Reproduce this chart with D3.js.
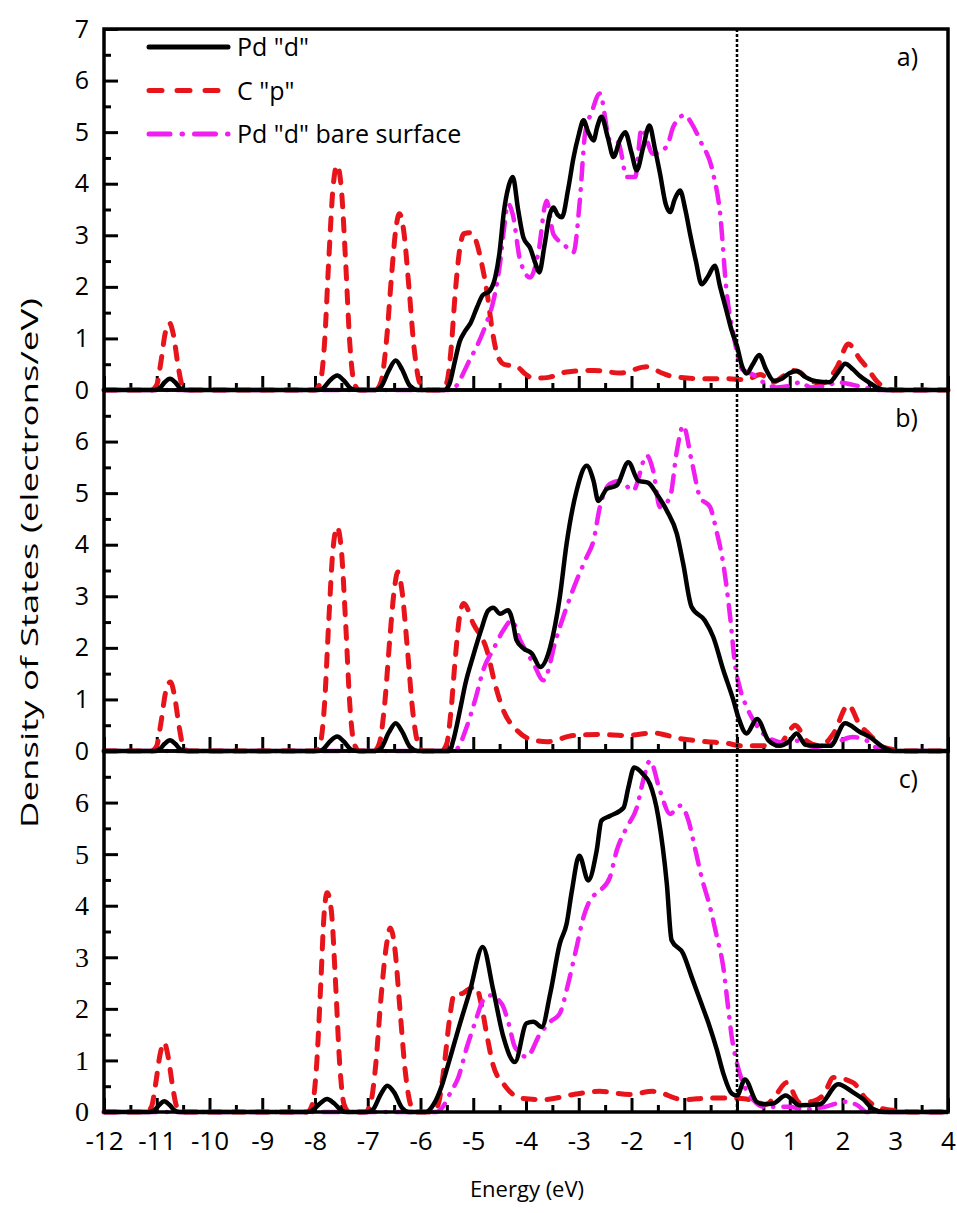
<!DOCTYPE html>
<html>
<head>
<meta charset="utf-8">
<script src="https://cdn.jsdelivr.net/npm/d3@7/dist/d3.min.js"></script>
<style>
  body { margin: 0; background: #ffffff; }
  svg { display: block; }
  .axis path { display: none; }
  .lbl { font-family: "Open Sans", sans-serif; fill: #000; }
</style>
</head>
<body>
<div id="chart"></div>
<script>
var margin = {top: 29, right: 9, bottom: 101, left: 104};

// energy ticks and panel names
var xTicks = d3.range(-12, 5, 1);
var panelNames = ['a)', 'b)', 'c)'];
var seriesNames = ['Pd "d"', 'C "p"', 'Pd "d" bare surface'];

// [energy, DOS], panel a
var pdA = [[-12,0],[-11.05,0],[-10.95,0.03],[-10.85,0.15],[-10.75,0.22],[-10.65,0.15],[-10.55,0.03],[-10.45,0],
  [-7.95,0],[-7.85,0.03],[-7.72,0.18],[-7.58,0.28],[-7.45,0.18],[-7.32,0.03],[-7.2,0],
  [-6.85,0],[-6.75,0.06],[-6.6,0.38],[-6.47,0.57],[-6.35,0.4],[-6.2,0.08],[-6.05,0],
  [-5.55,0],[-5.45,0.12],[-5.35,0.55],[-5.26,0.93],[-5.15,1.15],[-5.05,1.3],[-4.93,1.6],[-4.82,1.84],[-4.69,1.92],
  [-4.58,2.2],[-4.5,2.68],[-4.42,3.45],[-4.33,3.95],[-4.25,4.13],[-4.15,3.5],[-4.05,2.96],[-3.92,2.75],[-3.82,2.45],
  [-3.75,2.28],[-3.65,2.8],[-3.55,3.4],[-3.48,3.54],[-3.4,3.4],[-3.32,3.35],[-3.2,3.9],[-3.1,4.5],[-3.0,4.95],
  [-2.91,5.23],[-2.82,5.0],[-2.72,4.84],[-2.65,5.1],[-2.57,5.3],[-2.45,4.9],[-2.34,4.52],[-2.22,4.85],[-2.12,5.0],
  [-2.0,4.6],[-1.9,4.26],[-1.78,4.7],[-1.66,5.13],[-1.56,4.7],[-1.46,4.2],[-1.35,3.6],[-1.27,3.45],[-1.18,3.7],
  [-1.08,3.87],[-0.98,3.5],[-0.89,3.03],[-0.78,2.5],[-0.67,2.05],[-0.55,2.2],[-0.42,2.41],[-0.32,2.0],[-0.2,1.54],
  [-0.1,1.15],[0,0.85],[0.1,0.45],[0.18,0.32],[0.3,0.5],[0.42,0.68],[0.55,0.4],[0.7,0.18],[0.85,0.22],[1.0,0.33],
  [1.13,0.37],[1.3,0.25],[1.5,0.17],[1.75,0.15],[1.92,0.35],[2.05,0.51],[2.2,0.4],[2.33,0.27],[2.5,0.15],[2.65,0.05],
  [2.85,0],[4,0]];
var cpA = [[-12,0],[-11.1,0],[-11.0,0.1],[-10.92,0.55],[-10.84,1.1],[-10.76,1.3],[-10.68,1.05],[-10.6,0.5],[-10.52,0.1],[-10.42,0],
  [-8.0,0],[-7.9,0.15],[-7.82,0.9],[-7.74,2.5],[-7.66,3.9],[-7.58,4.36],[-7.5,3.9],[-7.42,2.5],[-7.34,0.9],[-7.26,0.15],[-7.16,0],
  [-6.85,0],[-6.75,0.15],[-6.65,0.9],[-6.55,2.2],[-6.47,3.1],[-6.4,3.42],[-6.32,3.1],[-6.22,2.0],[-6.12,0.8],[-6.02,0.15],[-5.92,0],
  [-5.6,0],[-5.5,0.15],[-5.42,0.8],[-5.34,1.9],[-5.26,2.7],[-5.18,3.03],[-5.05,3.05],[-4.95,2.9],[-4.85,2.5],[-4.74,1.9],
  [-4.64,1.16],[-4.55,0.7],[-4.42,0.5],[-4.17,0.45],[-4.0,0.3],[-3.86,0.23],[-3.6,0.24],[-3.23,0.35],[-2.72,0.38],
  [-2.22,0.33],[-1.71,0.45],[-1.4,0.32],[-1.21,0.26],[-0.7,0.22],[-0.2,0.22],[0.18,0.2],[0.44,0.3],[0.69,0.15],
  [0.85,0.25],[1.05,0.38],[1.2,0.34],[1.39,0.17],[1.64,0.14],[1.9,0.45],[2.11,0.89],[2.33,0.6],[2.46,0.44],[2.65,0.17],
  [2.84,0.03],[3.0,0],[4,0]];
var bareA = [[-12,0],[-5.4,0],[-5.32,0.08],[-5.2,0.3],[-5.07,0.58],[-4.94,0.83],[-4.75,1.3],[-4.62,1.72],[-4.5,2.4],
  [-4.42,3.1],[-4.34,3.61],[-4.25,3.4],[-4.11,2.51],[-3.92,2.18],[-3.77,2.64],[-3.61,3.67],[-3.48,3.02],[-3.29,2.83],
  [-3.1,2.67],[-2.98,3.67],[-2.88,4.97],[-2.75,5.4],[-2.6,5.75],[-2.41,4.84],[-2.25,4.8],[-2.09,4.13],[-1.93,4.13],
  [-1.81,5.07],[-1.59,4.58],[-1.33,4.72],[-1.21,5.1],[-0.99,5.33],[-0.85,5.15],[-0.7,4.84],[-0.45,4.19],[-0.32,3.42],
  [-0.2,1.93],[-0.07,1.09],[0.1,0.4],[0.3,0.3],[0.5,0.15],[0.75,0.05],[1.0,0.08],[1.2,0.15],[1.4,0.05],[1.7,0.08],
  [1.9,0.15],[2.2,0.1],[2.5,0.03],[2.7,0],[4,0]];

// panel b
var pdB = [[-12,0],[-11.05,0],[-10.95,0.03],[-10.85,0.14],[-10.75,0.21],[-10.65,0.14],[-10.55,0.03],[-10.45,0],
  [-7.95,0],[-7.85,0.03],[-7.72,0.18],[-7.58,0.28],[-7.45,0.18],[-7.32,0.03],[-7.2,0],
  [-6.85,0],[-6.75,0.05],[-6.6,0.36],[-6.47,0.54],[-6.35,0.38],[-6.2,0.08],[-6.05,0],
  [-5.45,0],[-5.38,0.2],[-5.25,0.8],[-5.15,1.3],[-5.0,1.85],[-4.85,2.35],[-4.72,2.72],[-4.62,2.78],[-4.49,2.66],
  [-4.34,2.73],[-4.25,2.5],[-4.18,2.15],[-4.05,1.99],[-3.89,1.89],[-3.73,1.63],[-3.54,2.02],[-3.36,2.98],[-3.23,4.02],
  [-3.04,5.05],[-2.85,5.53],[-2.72,5.24],[-2.63,4.85],[-2.47,5.08],[-2.28,5.15],[-2.06,5.6],[-1.87,5.24],[-1.68,5.2],
  [-1.52,4.98],[-1.33,4.66],[-1.14,4.21],[-1.02,3.63],[-0.86,2.79],[-0.61,2.53],[-0.45,2.21],[-0.26,1.57],[-0.07,0.99],
  [0.03,0.64],[0.18,0.34],[0.38,0.62],[0.6,0.2],[0.8,0.1],[1.0,0.2],[1.13,0.34],[1.3,0.12],[1.5,0.1],[1.77,0.1],
  [2.05,0.54],[2.33,0.37],[2.52,0.27],[2.78,0.07],[2.97,0],[4,0]];
var cpB = [[-12,0],[-11.1,0],[-11.0,0.1],[-10.92,0.55],[-10.83,1.15],[-10.74,1.34],[-10.66,1.05],[-10.58,0.5],[-10.5,0.1],[-10.4,0],
  [-8.0,0],[-7.9,0.15],[-7.82,0.9],[-7.74,2.5],[-7.66,3.9],[-7.58,4.34],[-7.5,3.9],[-7.42,2.5],[-7.34,0.9],[-7.26,0.15],[-7.16,0],
  [-6.88,0],[-6.78,0.15],[-6.68,0.9],[-6.58,2.2],[-6.5,3.1],[-6.43,3.47],[-6.35,3.1],[-6.25,2.0],[-6.15,0.8],[-6.05,0.15],[-5.95,0],
  [-5.6,0],[-5.5,0.15],[-5.42,0.8],[-5.34,1.8],[-5.26,2.6],[-5.18,2.86],[-5.0,2.47],[-4.74,1.95],[-4.59,1.31],[-4.43,0.79],
  [-4.18,0.41],[-3.86,0.21],[-3.6,0.18],[-3.1,0.3],[-2.6,0.32],[-2.1,0.3],[-1.59,0.35],[-1.08,0.24],[-0.57,0.18],
  [-0.2,0.15],[0.1,0.1],[0.3,0.1],[0.5,0.1],[0.8,0.12],[1.0,0.4],[1.1,0.5],[1.33,0.19],[1.58,0.1],[1.83,0.34],
  [2.11,0.89],[2.33,0.5],[2.49,0.34],[2.78,0.07],[3.03,0.02],[3.2,0],[4,0]];
var bareB = [[-12,0],[-5.4,0],[-5.3,0.05],[-5.13,0.45],[-4.97,0.97],[-4.8,1.6],[-4.62,1.97],[-4.43,2.34],[-4.27,2.53],
  [-4.11,2.15],[-3.86,1.7],[-3.67,1.37],[-3.42,2.21],[-3.23,2.79],[-3.04,3.31],[-2.85,3.76],[-2.72,4.08],[-2.6,4.73],
  [-2.41,5.18],[-2.22,5.24],[-1.97,5.05],[-1.71,5.73],[-1.59,5.44],[-1.46,4.73],[-1.27,4.92],[-1.14,5.82],[-1.02,6.31],
  [-0.86,5.63],[-0.7,4.92],[-0.51,4.73],[-0.39,4.27],[-0.26,3.63],[-0.13,2.6],[-0.04,1.7],[0.06,1.2],[0.18,0.86],
  [0.31,0.6],[0.56,0.28],[0.94,0.15],[1.13,0.2],[1.45,0.08],[1.83,0.15],[2.2,0.27],[2.46,0.2],[2.7,0.03],[2.9,0],[4,0]];

// panel c
var pdC = [[-12,0],[-11.15,0],[-11.05,0.03],[-10.95,0.14],[-10.86,0.21],[-10.76,0.14],[-10.66,0.03],[-10.56,0],
  [-8.15,0],[-8.05,0.03],[-7.9,0.17],[-7.77,0.25],[-7.64,0.17],[-7.5,0.03],[-7.4,0],
  [-7.0,0],[-6.9,0.05],[-6.75,0.35],[-6.63,0.51],[-6.5,0.38],[-6.35,0.08],[-6.22,0],
  [-5.9,0],[-5.75,0.15],[-5.6,0.5],[-5.49,0.87],[-5.25,1.72],[-5.06,2.36],[-4.82,3.2],[-4.62,2.36],[-4.43,1.46],
  [-4.21,0.97],[-3.99,1.72],[-3.86,1.75],[-3.7,1.65],[-3.54,2.3],[-3.36,3.26],[-3.23,3.65],[-3.13,4.29],[-2.99,4.97],
  [-2.82,4.49],[-2.66,5.07],[-2.57,5.65],[-2.41,5.74],[-2.15,5.9],[-2.06,6.29],[-1.95,6.68],[-1.78,6.55],[-1.65,6.36],
  [-1.49,5.71],[-1.33,4.42],[-1.24,3.33],[-1.02,3.07],[-0.86,2.62],[-0.7,2.17],[-0.54,1.72],[-0.38,1.2],[-0.26,0.75],
  [-0.1,0.36],[0,0.32],[0.15,0.63],[0.37,0.2],[0.5,0.15],[0.7,0.17],[0.92,0.32],[1.19,0.13],[1.57,0.15],[1.92,0.54],
  [2.2,0.38],[2.39,0.25],[2.58,0.06],[2.8,0],[4,0]];
var cpC = [[-12,0],[-11.2,0],[-11.1,0.1],[-11.02,0.55],[-10.94,1.1],[-10.86,1.35],[-10.78,1.05],[-10.7,0.5],[-10.62,0.1],[-10.52,0],
  [-8.15,0],[-8.05,0.15],[-7.97,0.9],[-7.89,2.5],[-7.83,3.8],[-7.77,4.25],[-7.69,3.9],[-7.61,2.5],[-7.53,0.9],[-7.45,0.15],[-7.35,0],
  [-7.05,0],[-6.95,0.15],[-6.85,0.9],[-6.75,2.2],[-6.65,3.2],[-6.57,3.57],[-6.49,3.2],[-6.39,2.0],[-6.29,0.8],[-6.19,0.15],[-6.1,0],
  [-5.75,0],[-5.65,0.2],[-5.55,0.9],[-5.45,1.8],[-5.36,2.28],[-5.2,2.3],[-5.12,2.36],[-4.95,2.43],[-4.85,2.1],[-4.74,1.48],
  [-4.62,0.9],[-4.4,0.51],[-4.11,0.27],[-3.67,0.24],[-3.1,0.34],[-2.6,0.4],[-2.03,0.34],[-1.59,0.4],[-1.02,0.24],
  [-0.51,0.27],[-0.2,0.27],[0.18,0.25],[0.55,0.15],[0.75,0.35],[0.94,0.57],[1.19,0.18],[1.45,0.21],[1.65,0.35],
  [1.83,0.67],[2.2,0.57],[2.45,0.25],[2.7,0.08],[3.07,0.02],[3.3,0],[4,0]];
var bareC = [[-12,0],[-5.7,0],[-5.6,0.07],[-5.44,0.36],[-5.28,0.68],[-5.12,1.26],[-4.97,1.72],[-4.81,2.17],[-4.68,2.26],
  [-4.46,2.1],[-4.33,1.72],[-4.21,1.26],[-3.99,1.07],[-3.73,1.52],[-3.54,1.75],[-3.36,1.91],[-3.2,2.49],[-3.04,3.2],
  [-2.91,3.78],[-2.79,4.1],[-2.6,4.29],[-2.41,4.55],[-2.28,5.07],[-2.09,5.52],[-1.9,5.9],[-1.78,6.42],[-1.65,6.81],
  [-1.46,6.23],[-1.27,5.78],[-1.08,5.94],[-0.92,5.65],[-0.8,5.13],[-0.67,4.55],[-0.51,3.97],[-0.38,3.39],[-0.26,2.81],
  [-0.17,2.04],[-0.1,1.46],[0,0.94],[0.12,0.55],[0.31,0.23],[0.5,0.1],[0.97,0.1],[1.3,0.05],[1.67,0.1],[2.05,0.2],
  [2.3,0.12],[2.45,0],[4,0]];

var panels = [
  {name: panelNames[0], pd: pdA, cp: cpA, bare: bareA, yTicks: d3.range(0, 8)},
  {name: panelNames[1], pd: pdB, cp: cpB, bare: bareB, yTicks: d3.range(0, 7)},
  {name: panelNames[2], pd: pdC, cp: cpC, bare: bareC, yTicks: d3.range(0, 7)}
];

var width = 957, height = 1213;
var plotW = width - margin.left - margin.right;
var panelH = 361;

var svg = d3.select('#chart').append('svg')
  .attr('width', width)
  .attr('height', height);

var xScale = d3.scaleLinear()
  .domain([-12, 4])
  .range([margin.left, margin.left + plotW]);

var styles = {
  pd: {color: '#000000', dash: null, w: 4.5},
  cp: {color: '#e8141b', dash: '12,12', w: 5},
  bare: {color: '#f01ef0', dash: '16,10,0.5,10', w: 4.5}
};

panels.forEach(function(p, i) {
  var top = margin.top + i * panelH;
  var yScale = d3.scaleLinear().domain([0, 7]).range([top + panelH, top]);

  var line = d3.line()
    .x(function(d) { return xScale(d[0]); })
    .y(function(d) { return yScale(d[1]); })
    .curve(d3.curveMonotoneX);

  var g = svg.append('g');

  // minor + major ticks on the left
  g.append('g').attr('class', 'axis')
    .attr('transform', 'translate(' + margin.left + ',0)')
    .call(d3.axisLeft(yScale).tickValues(d3.range(0.5, 7, 1)).tickSize(-7).tickFormat(''));
  var ya = g.append('g').attr('class', 'axis')
    .attr('transform', 'translate(' + margin.left + ',0)')
    .call(d3.axisLeft(yScale).tickValues(p.yTicks).tickSize(-14).tickPadding(15).tickFormat(d3.format('d')));
  ya.selectAll('text')
    .attr('font-size', i == 2 ? '28px' : '25px')
    .attr('font-family', i == 2 ? '"Liberation Serif", serif' : '"Open Sans", sans-serif')
    .attr('fill', '#000');

  // ticks along the bottom
  g.append('g').attr('class', 'axis')
    .attr('transform', 'translate(0,' + (top + panelH) + ')')
    .call(d3.axisBottom(xScale).tickValues(d3.range(-11.5, 4, 1)).tickSize(-7).tickFormat(''));
  var xa = g.append('g').attr('class', 'axis')
    .attr('transform', 'translate(0,' + (top + panelH) + ')')
    .call(d3.axisBottom(xScale).tickValues(xTicks).tickSize(-14).tickPadding(20).tickFormat(d3.format('d')));
  if (i == 2) {
    xa.selectAll('text')
      .attr('font-size', '26px')
      .attr('font-family', '"Open Sans", sans-serif')
      .attr('fill', '#000')
      .text(function(d) { return String(d); });
  } else {
    xa.selectAll('text').remove();
  }

  g.selectAll('.axis line')
    .attr('stroke', '#000')
    .attr('stroke-width', 3);

  ['cp', 'bare', 'pd'].forEach(function(k) {
    g.append('path')
      .attr('d', line(p[k]))
      .attr('fill', 'none')
      .attr('stroke', styles[k].color)
      .attr('stroke-width', styles[k].w)
      .attr('stroke-dasharray', styles[k].dash)
      .attr('stroke-linecap', k == 'pd' ? 'butt' : 'round')
      .attr('stroke-linejoin', 'round');
  });

  g.append('text')
    .attr('class', 'lbl')
    .attr('x', 918)
    .attr('y', top + 37)
    .attr('text-anchor', 'end')
    .attr('font-size', '25px')
    .text(p.name);

  g.append('rect')
    .attr('x', margin.left)
    .attr('y', top)
    .attr('width', plotW)
    .attr('height', panelH)
    .attr('fill', 'none')
    .attr('stroke', '#000')
    .attr('stroke-width', 3.5);
});

// Fermi level
svg.append('line')
  .attr('x1', xScale(0)).attr('x2', xScale(0))
  .attr('y1', margin.top).attr('y2', margin.top + 3 * panelH)
  .attr('stroke', '#000')
  .attr('stroke-width', 2.5)
  .attr('stroke-dasharray', '3,2');

// legend
var legend = svg.append('g');
['pd', 'cp', 'bare'].forEach(function(k, i) {
  var y = 47 + i * 43.5;
  legend.append('line')
    .attr('x1', 149).attr('x2', 228)
    .attr('y1', y).attr('y2', y)
    .attr('stroke', styles[k].color)
    .attr('stroke-width', 5)
    .attr('stroke-dasharray', k == 'cp' ? '13,15' : (k == 'bare' ? '21,12,0.5,12' : null))
    .attr('stroke-linecap', 'round');
  legend.append('text')
    .attr('class', 'lbl')
    .attr('x', 237)
    .attr('y', y)
    .attr('dy', '0.36em')
    .attr('font-size', '25px')
    .text(seriesNames[i]);
});

svg.append('text')
  .attr('class', 'lbl')
  .attr('transform', 'translate(38,' + 563 + ') rotate(-90)')
  .attr('text-anchor', 'middle')
  .attr('font-size', '23px')
  .attr('textLength', 530)
  .attr('lengthAdjust', 'spacingAndGlyphs')
  .text('Density of States (electrons/eV)');

svg.append('text')
  .attr('class', 'lbl')
  .attr('x', 527)
  .attr('y', 1197)
  .attr('text-anchor', 'middle')
  .attr('font-size', '22px')
  .text('Energy (eV)');
</script>
</body>
</html>
